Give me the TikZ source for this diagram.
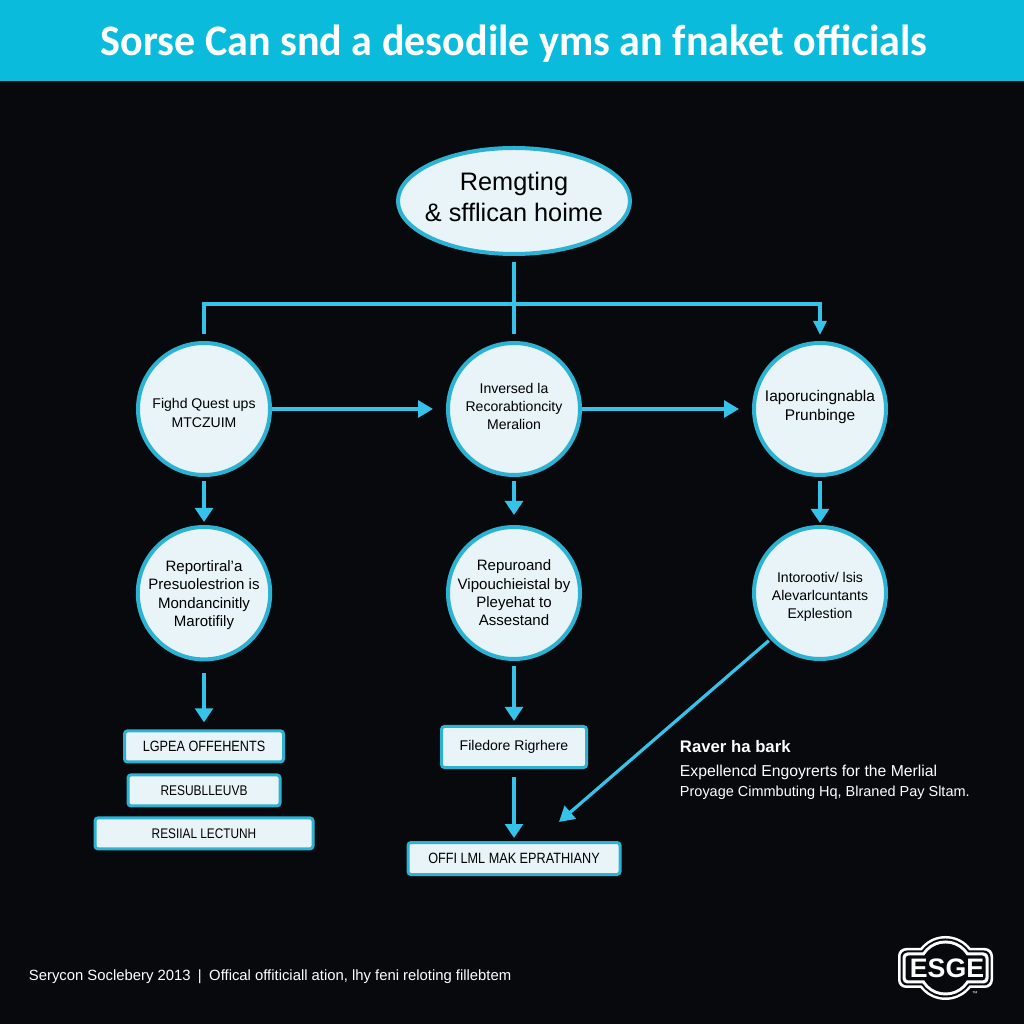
\documentclass[tikz,border=0pt]{standalone}
\usepackage{fontspec}
\setmainfont{Liberation Sans}
\newfontfamily\headfont[FakeStretch=0.966]{Carlito}
\newfontfamily\slimfont[FakeStretch=0.85]{Liberation Sans}
\usetikzlibrary{positioning,arrows.meta,shapes.geometric}

\definecolor{night}{HTML}{08090D}
\definecolor{banner}{HTML}{0ABBDC}
\definecolor{ring}{HTML}{2CB3D3}
\definecolor{ice}{HTML}{E8F4F8}
\definecolor{wire}{HTML}{35C3EA}

% struts that push a label down or up inside its circle
\newcommand{\padtop}[1]{\rule{0pt}{#1}}
\newcommand{\padlow}[1]{\rule[-#1]{0pt}{0pt}}

\begin{document}
\begin{tikzpicture}[
      x=0.25mm, y=-0.25mm,
      every node/.style={align=center, text=black},
      disc/.style={circle, draw=ring, fill=ice, line width=1mm, minimum size=33mm, inner sep=0pt,
                   font=\fontsize{10}{13}\selectfont},
      tag/.style={draw=ring, fill=ice, line width=0.75mm, rounded corners=0.75mm, inner sep=0pt,
                  minimum height=7.75mm, font=\slimfont\fontsize{10.6}{13}\selectfont},
      wirethin/.style={draw=wire, line width=0.8mm},
      flow/.style={wire, line width=0.9mm, -{Triangle[length=3.75mm, width=4.2mm]}},
      drop/.style={wire, line width=1.1mm, -{Triangle[length=3.5mm, width=4.4mm]}},
      note/.style={text=white, align=left, anchor=west},
      node distance=12mm and 43.5mm,
  ]
    % Backdrop and title strip
    \fill[night] (0,0) rectangle (1024,1024);
    \node[fill=banner, minimum width=256mm, minimum height=20.25mm, inner sep=0pt, outer sep=0pt] (strip) at (512,40.5) {};
    \node[text=white, font=\headfont\bfseries\fontsize{31}{36}\selectfont] (title) at (514,44)
      {Sorse Can snd a desodile yms an fnaket officials};

    % Top ellipse
    \node[ellipse, draw=ring, fill=ice, line width=1mm, minimum width=58mm, minimum height=26.5mm,
          inner xsep=-2.5mm, inner ysep=0pt, font=\fontsize{18}{21.5}\selectfont] (root) at (514,201)
      {Remgting\\\& sfflican hoime\padlow{6pt}};

    % Row 1: three circles
    \node[disc, below=21.25mm of root] (invers) {Inversed la\\Recorabtioncity\\Meralion\padlow{4pt}};
    \node[disc, left=43.5mm of invers] (fight) {\padtop{13pt}Fighd Quest ups\\MTCZUIM};
    \node[disc, right=42.5mm of invers, font=\fontsize{11}{13}\selectfont] (impor) {Iaporucingnabla\\Prunbinge\padlow{5pt}};

    % Row 2: three circles
    \node[disc, below=of fight, font=\fontsize{10.7}{13}\selectfont] (report)
      {\padtop{10.5pt}Reportiral'a\\Presuolestrion is\\Mondancinitly\\Marotifily};
    \node[disc, below=of invers, font=\fontsize{10.7}{13}\selectfont] (repur)
      {Repuroand\\Vipouchieistal by\\Pleyehat to\\Assestand};
    \node[disc, below=of impor] (intro) {\padtop{13pt}Intorootiv/ lsis\\Alevarlcuntants\\Explestion};

    % Left stack of tags
    \node[tag, below=17mm of report, minimum width=39.75mm] (lgpea) {LGPEA OFFEHENTS};
    \node[tag, below=2.5mm of lgpea, minimum width=38mm, font=\slimfont\fontsize{10}{13}\selectfont] (resub) {RESUBLLEUVB};
    \node[tag, below=2.25mm of resub, minimum width=54.5mm, font=\slimfont\fontsize{9.9}{13}\selectfont] (resil) {RESIIAL LECTUNH};

    % Middle tags
    \node[tag, below=16mm of repur, minimum width=36.25mm, minimum height=10.25mm,
          font=\fontsize{10}{13}\selectfont] (filed) {Filedore Rigrhere};
    \node[tag, below=18mm of filed, minimum width=53mm, minimum height=8mm] (offi) {OFFI LML MAK EPRATHIANY};

    % Branching from the ellipse
    \coordinate (bus) at (514,304);
    \coordinate (sink) at (559,822);
    \draw[wirethin, shorten <=1.5mm, shorten >=1.75mm] (root.south) -- (invers.north);
    \draw[wirethin, shorten <=1.75mm, shorten >=1.5mm, -{Triangle[length=3.5mm, width=3.2mm]}]
      (fight.north) |- (bus) -| (impor.north);

    % Arrows between the circles
    \draw[flow, shorten >=3.25mm] (fight.east) -- (invers.west);
    \draw[flow, shorten >=3.25mm] (invers.east) -- (impor.west);
    \draw[drop, shorten <=1mm, shorten >=0.75mm] (fight.south) -- (report.north);
    \draw[drop, shorten <=1mm, shorten >=2.5mm] (invers.south) -- (repur.north);
    \draw[drop, shorten <=1mm, shorten >=0.5mm] (impor.south) -- (intro.north);
    \draw[drop, shorten <=3mm, shorten >=1.75mm] (report.south) -- (lgpea.north);
    \draw[drop, shorten <=1.25mm, shorten >=1mm] (repur.south) -- (filed.north);
    \draw[drop, shorten <=2mm, shorten >=0.75mm] (filed.south) -- (offi.north);
    \draw[flow, line width=0.8mm, shorten <=0.5mm] (intro.223) -- (sink);

    % Side note and footer
    \node[note, font=\bfseries\fontsize{11.9}{14}\selectfont] (raver) at (675,747) {Raver ha bark};
    \node[note, font=\fontsize{11.2}{14.2}\selectfont, below=0.5mm of raver.south west, anchor=north west] (expel)
      {Expellencd Engoyrerts for the Merlial\\{\fontsize{10.3}{14.2}\selectfont Proyage Cimmbuting Hq, Blraned Pay Sltam.}};
    \node[note, font=\fontsize{10.55}{13}\selectfont] (foot) at (24,977)
      {Serycon Soclebery 2013\enspace|\enspace Offical offiticiall ation, lhy feni reloting fillebtem};

    % Badge: nested arch and bar outlines
    \fill[white] (945.5,968) circle (32);
    \fill[white, rounded corners=2mm] (898,948) rectangle (993,988);
    \fill[night] (945.5,968) circle (29.5);
    \fill[night, rounded corners=1.6mm] (900.5,950.5) rectangle (990.5,985.5);
    \fill[white] (945.5,968) circle (27.5);
    \fill[white, rounded corners=1.2mm] (902.5,952.5) rectangle (988.5,983.5);
    \fill[night] (945.5,968) circle (24.5);
    \fill[night, rounded corners=0.8mm] (905.5,955.5) rectangle (985.5,980.5);
    \node[text=white, font=\bfseries\fontsize{19}{19}\selectfont, inner sep=0pt] (esg) at (947,968) {ESGE};
    \node[text=white, font=\fontsize{4}{4}\selectfont, inner sep=0pt] (mark) at (975,994) {™};
  \end{tikzpicture}
\end{document}
